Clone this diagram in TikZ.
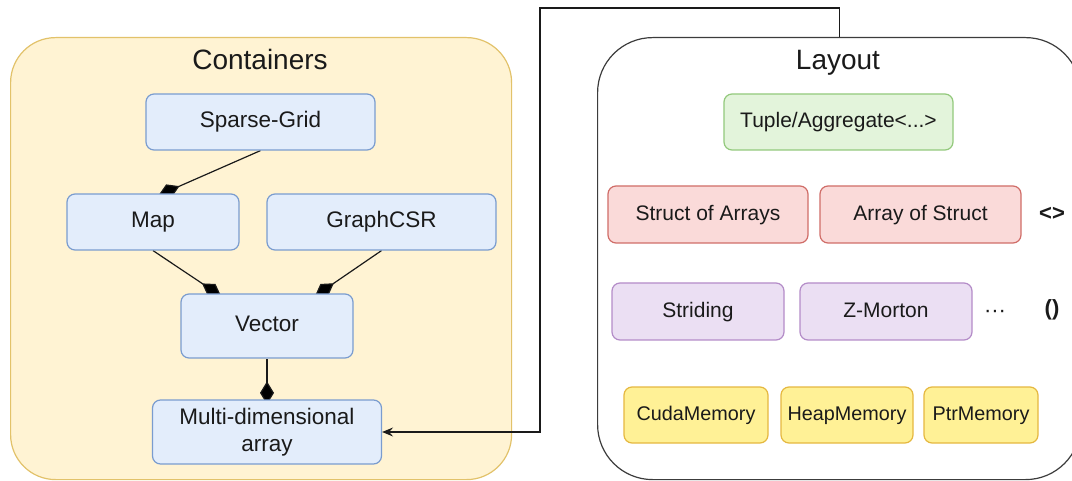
\documentclass[tikz,border=0pt]{standalone}
\usepackage{fontspec}
\setmainfont{Liberation Sans}
\usetikzlibrary{arrows.meta,positioning}
\pgfdeclarelayer{bg}
\pgfdeclarelayer{edges}
\pgfsetlayers{bg,edges,main}
\definecolor{contfill}{HTML}{FFF3D3}
\definecolor{contline}{HTML}{E2C26A}
\definecolor{bluefill}{HTML}{E3EDFB}
\definecolor{blueline}{HTML}{7A9CCF}
\definecolor{greenfill}{HTML}{E3F4DB}
\definecolor{greenline}{HTML}{93C97C}
\definecolor{redfill}{HTML}{FADAD9}
\definecolor{redline}{HTML}{D06D68}
\definecolor{purpfill}{HTML}{EBDFF3}
\definecolor{purpline}{HTML}{B48CC8}
\definecolor{memfill}{HTML}{FFF196}
\definecolor{memline}{HTML}{E5B840}
\definecolor{txt}{HTML}{1A1A1A}
\tikzset{
  box/.style={draw, line width=1.2pt, rounded corners=8pt, inner sep=0pt, text=txt,
    font=\fontsize{22.5}{27}\selectfont, align=center},
  oneline/.style={text height=16pt, text depth=4.5pt},
  bluebox/.style={box, fill=bluefill, draw=blueline},
  greenbox/.style={box, oneline, fill=greenfill, draw=greenline, font=\fontsize{21}{25}\selectfont},
  redbox/.style={box, oneline, fill=redfill, draw=redline, font=\fontsize{21}{25}\selectfont},
  purpbox/.style={box, oneline, fill=purpfill, draw=purpline, font=\fontsize{21}{25}\selectfont},
  membox/.style={box, oneline, fill=memfill, draw=memline, font=\fontsize{19.8}{24}\selectfont},
  title/.style={text=txt, font=\fontsize{28}{32}\selectfont, text height=20pt, text depth=6pt},
  sym/.style={text=txt, font=\fontsize{22}{26}\selectfont\bfseries},
  comp/.style={line width=1.2pt, draw=txt, shorten <=-5pt,
    {Diamond[length=23pt,width=14pt,fill=black]}-},
  link/.style={line width=1.2pt, draw=txt, -{Stealth[length=11pt,width=9pt,inset=4pt]}},
}
\begin{document}
\begin{tikzpicture}[x=1pt,y=-1pt]
\useasboundingbox (0,0) rectangle (1072,481);
\begin{pgfonlayer}{bg}
\node[draw=contline, fill=contfill, line width=1.2pt, rounded corners=45pt,
  minimum width=501pt, minimum height=442pt, anchor=north west, inner sep=0pt] (cont) at (10,37) {};
\node[draw=txt!85, fill=white, line width=1.2pt, rounded corners=55pt,
  minimum width=483pt, minimum height=442pt, anchor=north west, inner sep=0pt] (lay) at (597,37) {};
\end{pgfonlayer}

\node[title] (conttitle) at (260,63) {Containers};
\node[title] (laytitle) at (838,63) {Layout};

\node[bluebox, oneline, minimum width=229pt, minimum height=56pt] (sg) at (260.5,122) {Sparse-Grid};
\node[bluebox, oneline, minimum width=172pt, minimum height=56pt] (map) at (153,222) {Map};
\node[bluebox, oneline, minimum width=229pt, minimum height=56pt] (gcsr) at (381.5,222) {GraphCSR};
\node[bluebox, oneline, minimum width=172pt, minimum height=64pt] (vec) at (267,326) {Vector};
\node[bluebox, minimum width=229pt, minimum height=64pt] (mda) at (267,432) {Multi-dimensional\\array};

\node[greenbox, minimum width=229pt, minimum height=56pt] (tup) at (838.5,122) {Tuple/Aggregate<...>};
\node[redbox, minimum width=200pt, minimum height=57pt] (soa) at (708,214.5) {Struct of Arrays};
\node[redbox, minimum width=201pt, minimum height=57pt] (aos) at (920.5,214.5) {Array of Struct};
\node[sym] (angle) at (1052,214) {<>};
\node[purpbox, minimum width=172pt, minimum height=57pt] (strd) at (698,311.5) {Striding};
\node[purpbox, minimum width=172pt, minimum height=57pt] (zm) at (886,311.5) {Z-Morton};
\node[text=txt, font=\fontsize{22}{26}\selectfont] (dots) at (995,314) {···};
\node[sym] (paren) at (1052,310) {()};
\node[membox, minimum width=144pt, minimum height=56pt] (cuda) at (696,415) {CudaMemory};
\node[membox, minimum width=132pt, minimum height=56pt] (heap) at (847,415) {HeapMemory};
\node[membox, minimum width=114pt, minimum height=56pt] (ptr) at (981,415) {PtrMemory};

\begin{pgfonlayer}{edges}
\draw[comp] ([xshift=10pt]map.north) -- (sg.south);
\draw[comp] ([xshift=-50pt]vec.north) -- (map.south);
\draw[comp] ([xshift=52pt]vec.north) -- (gcsr.south);
\draw[comp] (mda.north) -- (vec.south);
\coordinate (bend) at (540,8);
\draw[link] (lay.north) |- (bend) |- (mda.east);
\end{pgfonlayer}
\end{tikzpicture}
\end{document}
